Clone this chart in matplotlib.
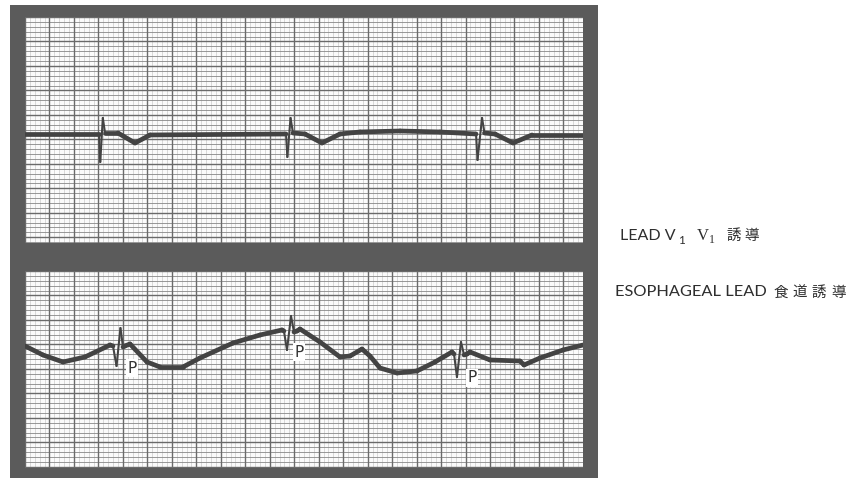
import numpy as np
import matplotlib
matplotlib.use("Agg")
import matplotlib.pyplot as plt
from matplotlib.collections import LineCollection
from matplotlib.patches import Rectangle

# ---------------- data (time in s, amplitude in mV) ----------------
v1_t = [0.000, 0.605, 0.615, 0.636, 0.654, 0.760, 0.899, 1.022, 2.133, 2.144,
        2.170, 2.190, 2.288, 2.427, 2.574, 2.738, 3.065, 3.391, 3.686, 3.698,
        3.735, 3.755, 3.841, 3.988, 4.143, 4.560]
v1_mv = [0.000, 0.000, -0.572, 0.327, 0.020, 0.020, -0.184, -0.020, 0.000, -0.470,
         0.327, 0.020, 0.000, -0.184, 0.000, 0.041, 0.061, 0.041, 0.000, -0.531,
         0.327, 0.020, 0.000, -0.184, -0.020, -0.020]

eso_t = [0.000, 0.147, 0.311, 0.490, 0.695, 0.719, 0.748, 0.780, 0.801, 0.817,
         0.858, 0.997, 1.103, 1.291, 1.430, 1.700, 1.920, 2.100, 2.116, 2.141,
         2.174, 2.198, 2.223, 2.247, 2.411, 2.574, 2.656, 2.754, 2.819, 2.901,
         3.040, 3.203, 3.351, 3.489, 3.506, 3.530, 3.563, 3.588, 3.612, 3.637,
         3.800, 4.045, 4.078, 4.209, 4.397, 4.560]
eso_mv = [0.082, -0.102, -0.245, -0.143, 0.102, 0.082, -0.327, 0.449, 0.061, 0.082,
          0.123, -0.245, -0.347, -0.347, -0.163, 0.143, 0.306, 0.409, 0.388, 0.000,
          0.695, 0.368, 0.388, 0.429, 0.163, -0.143, -0.123, 0.020, -0.123, -0.368,
          -0.470, -0.429, -0.245, -0.041, -0.082, -0.552, 0.163, -0.102, -0.082, -0.041,
          -0.204, -0.225, -0.306, -0.163, 0.000, 0.102]

p_label_t = [0.874, 2.239, 3.653]
p_label_mv = [-0.368, -0.041, -0.572]
p_labels = ["P", "P", "P"]

label_v1 = "LEAD V"
label_eso = "ESOPHAGEAL LEAD"
label_eso_cjk = "食道誘導"
label_v1_cjk = "誘導"

# ---------------- figure ----------------
W, H = 853, 478
fig = plt.figure(figsize=(W / 100, H / 100), dpi=100)
fig.patch.set_facecolor("white")

def fx(px):
    return px / W

def fy(py):
    return 1 - py / H

# dark mounting frame
frame = Rectangle((fx(10), 0), fx(598) - fx(10), fy(5), transform=fig.transFigure,
                  facecolor="#5b5b5b", edgecolor="none", zorder=-5)
fig.patches.append(frame)

T_MAX = 4.560
top_ax = fig.add_axes([fx(25), fy(243), fx(583) - fx(25), fy(17) - fy(243)])
bot_ax = fig.add_axes([fx(25), fy(468), fx(583) - fx(25), fy(271) - fy(468)])
top_ax.set_zorder(2); bot_ax.set_zorder(2)
top_ax.set_xlim(0, T_MAX); top_ax.set_ylim(-2.227, 2.390)
bot_ax.set_xlim(0, T_MAX); bot_ax.set_ylim(-2.411, 1.614)


def paper(ax):
    ax.set_facecolor("#fbfbfb")
    y0, y1 = ax.get_ylim()
    for k in range(int(T_MAX / 0.04) + 1):
        t = k * 0.04
        if k % 5 == 0:
            ax.axvline(t, color="#6a6a6a", lw=1.0, zorder=2)
        else:
            ax.axvline(t, color="#cccccc", lw=0.5, zorder=1)
    n = int((y1 - y0) / 0.1) + 1
    for k in range(n):
        v = y1 - k * 0.1
        if k % 5 == 0:
            ax.axhline(v, color="#6a6a6a", lw=1.0, zorder=2)
        else:
            ax.axhline(v, color="#888888", lw=0.6, zorder=1)
    ax.set_xticks([]); ax.set_yticks([])
    for s in ax.spines.values():
        s.set_visible(False)


def trace(ax, t, v):
    t = np.asarray(t); v = np.asarray(v)
    pts = np.column_stack([t, v])
    segs = np.stack([pts[:-1], pts[1:]], axis=1)
    # steep (spike) segments are drawn thinner, like a fast moving stylus
    dx = np.diff(t) / 0.008172
    dy = np.abs(np.diff(v)) / 0.02043
    widths = np.where(dy > 3.0 * np.maximum(dx, 1e-6), 1.5, 3.4)
    lc = LineCollection(segs, colors="#434343", linewidths=widths,
                        capstyle="round", joinstyle="round", zorder=5)
    ax.add_collection(lc)


paper(top_ax)
paper(bot_ax)
trace(top_ax, v1_t, v1_mv)
trace(bot_ax, eso_t, eso_mv)

for t, v, s in zip(p_label_t, p_label_mv, p_labels):
    bot_ax.text(t, v, s, ha="center", va="center", fontsize=11, color="#333333",
                family="DejaVu Sans", zorder=6,
                bbox=dict(boxstyle="square,pad=0.1", facecolor="white", edgecolor="none"))

# ---------------- side labels ----------------
tc = "#2e2e2e"
fig.text(fx(620), fy(240), label_v1, fontsize=11.5, color=tc, family="Lato", va="baseline")
fig.text(fx(678), fy(244), "1", fontsize=8.5, color=tc, family="Lato", va="baseline")
fig.text(fx(697), fy(240), "V", fontsize=12, color=tc, family="Liberation Serif", va="baseline")
fig.text(fx(709), fy(243), "1", fontsize=8.5, color=tc, family="Liberation Serif", va="baseline")
for i, ch in enumerate(label_v1_cjk):
    fig.text(fx(727 + i * 17), fy(240), ch, fontsize=10.5, color=tc,
             family="Noto Sans CJK JP", va="baseline")

fig.text(fx(615), fy(296), label_eso, fontsize=11.8, color=tc, family="Lato", va="baseline")
for i, ch in enumerate(label_eso_cjk):
    fig.text(fx(773 + i * 19.5), fy(297), ch, fontsize=10.5, color=tc,
             family="Noto Sans CJK JP", va="baseline")

fig.savefig("out.png", dpi=100, facecolor=fig.get_facecolor())
